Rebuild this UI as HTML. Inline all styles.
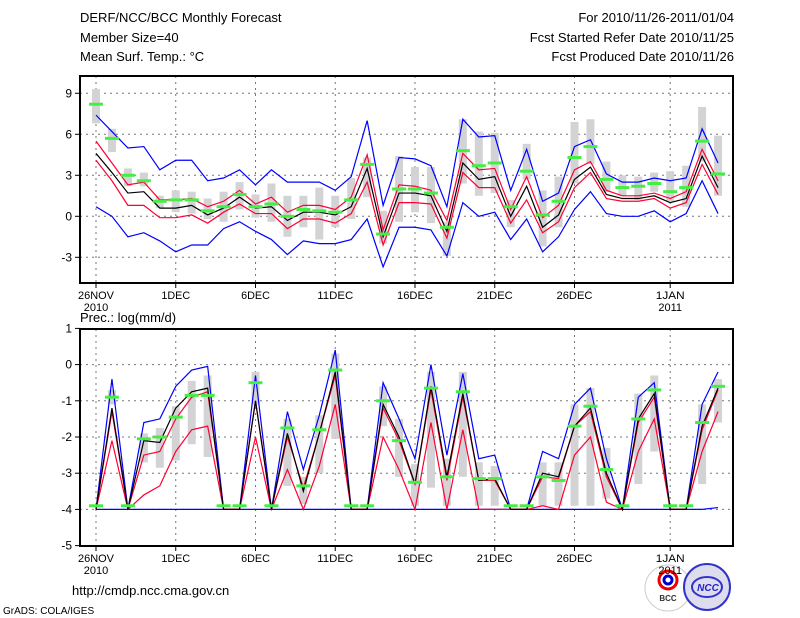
<!DOCTYPE html>
<html><head><meta charset="utf-8">
<style>
body{margin:0;background:#fff;}
svg{display:block;font-family:"Liberation Sans",sans-serif;}
</style></head>
<body>
<svg id="c" width="800" height="618" viewBox="0 0 800 618">
<g font-size="13" fill="#000">
<text x="80" y="22">DERF/NCC/BCC Monthly Forecast</text>
<text x="80" y="42">Member Size=40</text>
<text x="80" y="61">Mean Surf. Temp.: °C</text>
<text x="734" y="22" text-anchor="end">For 2010/11/26-2011/01/04</text>
<text x="734" y="42" text-anchor="end">Fcst Started Refer Date 2010/11/25</text>
<text x="734" y="61" text-anchor="end">Fcst Produced Date 2010/11/26</text>
<text x="80" y="322">Prec.: log(mm/d)</text>
<text x="72" y="595">http://cmdp.ncc.cma.gov.cn</text>
<text x="3" y="614" font-size="10">GrADS: COLA/IGES</text>
</g>
<g>
<circle cx="668" cy="588" r="23" fill="#fff" stroke="#ccc"/>
<circle cx="668" cy="580" r="9" fill="none" stroke="#e00" stroke-width="3"/>
<circle cx="668" cy="580" r="4" fill="none" stroke="#00c" stroke-width="3"/>
<text x="668" y="601" font-size="8" text-anchor="middle" font-weight="bold" fill="#333">BCC</text>
<circle cx="707" cy="587" r="23" fill="#dde" stroke="#33c" stroke-width="2"/>
<ellipse cx="707" cy="587" rx="15" ry="10" fill="none" stroke="#33c" stroke-width="2"/>
<text x="708" y="591" font-size="10" text-anchor="middle" font-style="italic" font-weight="bold" fill="#22c">NCC</text>
</g>
</svg>
<script>
const days=40;
const xLabels=["26NOV","1DEC","6DEC","11DEC","16DEC","21DEC","26DEC","1JAN"];
const xLabelDays=[0,5,10,15,20,25,30,36];
// Temperature
const tBarHi=[9.3,6.4,3.5,3.2,1.5,1.9,1.8,1.3,1.8,2.5,1.6,2.4,1.5,1.5,2.1,1.5,2.8,4.3,0.4,4.4,3.6,3.6,-0.4,7.1,6.2,6.1,1.2,5.3,1.9,2.9,6.9,7.1,4.0,3.0,2.9,3.2,3.3,3.7,8.0,5.9];
const tBarLo=[6.8,4.7,2.2,2.2,0.6,0.3,0.2,-0.2,-0.4,0.5,-0.1,-0.4,-1.5,-0.8,-1.7,-0.8,-0.2,1.4,-2.0,-0.4,0.3,-0.5,-2.9,2.4,1.5,1.7,-0.8,2.7,-2.2,-0.8,2.4,3.8,1.8,1.5,1.2,1.8,1.1,0.7,4.0,1.5];
const tGreen=[8.2,5.7,3.0,2.6,1.1,1.2,1.2,0.4,0.7,1.6,0.7,0.9,0.0,0.5,0.4,0.3,1.2,3.8,-1.3,2.0,2.0,1.7,-0.8,4.8,3.7,3.9,0.7,3.3,0.1,1.1,4.3,5.1,2.7,2.1,2.2,2.4,1.8,2.1,5.5,3.1];
const tBlueHi=[7.4,6.2,5.0,5.1,3.4,4.1,4.1,2.6,2.8,3.4,2.3,3.4,2.5,2.5,2.5,1.9,2.9,7.0,0.8,4.3,4.2,3.7,0.7,7.1,5.8,5.9,1.9,4.9,1.1,1.7,5.1,5.6,3.1,2.5,2.5,2.8,2.6,2.8,6.4,3.9];
const tBlueLo=[0.7,0.0,-1.5,-1.2,-1.8,-2.6,-2.1,-2.1,-0.9,-0.4,-1.1,-1.7,-2.8,-1.8,-2.0,-2.0,-1.7,-0.2,-3.7,-0.8,-0.8,-1.0,-2.9,1.0,0.0,0.3,-1.7,-0.2,-2.6,-1.5,0.5,1.8,0.2,0.0,0.0,0.4,-0.4,0.2,2.6,0.2];
const tRedHi=[5.5,3.9,2.3,2.5,1.2,1.2,1.3,0.7,1.1,1.9,0.9,1.4,0.3,0.8,0.8,0.5,1.4,4.5,-1.0,2.3,2.2,1.9,-0.3,4.6,3.4,3.5,0.5,2.9,-0.1,0.8,3.4,4.0,1.9,1.5,1.5,1.7,1.3,1.8,4.9,2.6];
const tRedLo=[4.1,2.6,0.8,0.8,-0.1,-0.1,0.1,-0.5,0.3,0.9,0.2,0.2,-0.9,-0.2,-0.2,-0.5,0.2,2.5,-2.1,1.0,1.0,0.9,-1.6,3.2,2.1,2.1,-0.5,1.2,-1.2,-0.4,2.1,3.2,1.3,1.1,1.1,1.3,0.6,1.0,3.8,1.6];
const tMean=[4.6,3.2,1.7,1.8,0.6,0.6,0.8,0.1,0.6,1.4,0.6,0.7,-0.3,0.3,0.3,0.1,0.7,3.5,-1.5,1.7,1.7,1.5,-1.1,3.9,2.7,2.9,0.0,2.2,-0.8,0.1,2.7,3.6,1.6,1.3,1.3,1.5,1.0,1.3,4.4,2.1];
const tTicks=[-3,0,3,6,9];
// Precipitation
const pBarHi=[null,-0.7,null,-1.9,-1.75,-1.15,-0.45,-0.3,null,null,-0.2,null,-1.5,-3.1,-1.4,0.3,null,null,-0.6,-1.5,-2.75,-0.2,-2.6,-0.2,-2.7,-2.8,null,null,-2.7,-2.7,-1.1,-0.65,-2.3,null,-0.8,-0.3,null,null,-1.1,-0.4];
const pBarLo=[null,-1.1,null,-2.7,-2.85,-2.65,-2.2,-2.55,null,null,-1.1,null,-3.35,-3.85,-3.0,-2.05,null,null,-1.7,-3.1,-3.9,-3.4,-3.9,-3.1,-3.9,-3.9,null,null,-3.9,-3.9,-3.9,-3.9,-3.7,null,-3.3,-2.4,null,null,-3.3,-1.6];
const pGreen=[-3.9,-0.9,-3.9,-2.05,-2.0,-1.45,-0.85,-0.85,-3.9,-3.9,-0.5,-3.9,-1.75,-3.35,-1.8,-0.15,-3.9,-3.9,-1.0,-2.1,-3.25,-0.65,-3.1,-0.75,-3.15,-3.15,-3.9,-3.9,-3.1,-3.2,-1.7,-1.15,-2.9,-3.9,-1.5,-0.7,-3.9,-3.9,-1.6,-0.6];
const pBlueHi=[-4,-0.4,-4,-1.6,-1.5,-0.6,-0.15,-0.05,-4,-4,-0.3,-4,-1.3,-2.9,-1.4,0.4,-4,-4,-0.5,-1.5,-2.6,0.0,-2.5,-0.25,-2.6,-2.5,-4,-4,-2.4,-2.6,-1.1,-0.65,-2.6,-4,-0.9,-0.5,-4,-4,-1.1,-0.2];
const pBlueLo=[-4,-4,-4,-4,-4,-4,-4,-4,-4,-4,-4,-4,-4,-4,-4,-4,-4,-4,-4,-4,-4,-4,-4,-4,-4,-4,-4,-4,-4,-4,-4,-4,-4,-4,-4,-4,-4,-4,-4,-3.95];
const pRedHi=[-4,-1.3,-4,-2.5,-2.4,-1.5,-0.9,-0.75,-4,-4,-1.0,-4,-2.0,-3.4,-1.9,-0.3,-4,-4,-1.2,-2.1,-3.3,-0.7,-3.2,-0.9,-3.2,-3.2,-4,-4,-3.1,-3.15,-1.7,-1.3,-3.1,-4,-1.6,-0.9,-4,-4,-1.8,-0.7];
const pRedLo=[-4,-2.1,-4,-3.6,-3.35,-2.4,-1.8,-1.7,-4,-4,-2.0,-4,-2.9,-4,-2.8,-1.1,-4,-4,-2.0,-2.9,-4,-1.6,-4,-1.8,-4,-4,-4,-4,-3.9,-4,-2.5,-2.0,-3.8,-4,-2.4,-1.5,-4,-4,-2.4,-1.3];
const pMean=[-4,-1.2,-4,-2.1,-2.15,-1.2,-0.75,-0.65,-4,-4,-1.0,-4,-1.9,-3.5,-1.9,-0.2,-4,-4,-1.1,-2.0,-3.3,-0.6,-3.1,-0.8,-3.2,-3.15,-4,-4,-3.0,-3.1,-1.7,-1.2,-3.0,-4,-1.5,-0.8,-4,-4,-1.7,-0.65];
const pTicks=[-5,-4,-3,-2,-1,0,1];

const NS="http://www.w3.org/2000/svg";
const svg=document.getElementById('c');
function mk(tag,attrs,parent){const e=document.createElementNS(NS,tag);for(const k in attrs)e.setAttribute(k,attrs[k]);(parent||svg).appendChild(e);return e;}
const X0=96,DX=15.95;
function xs(i){return X0+DX*i;}

function panel(cfg){
  const g=mk('g',{});
  
  
  const ys=v=>cfg.y0-cfg.k*v;
  // grid
  cfg.grid.forEach(v=>{const l=mk('line',{x1:cfg.L,x2:cfg.R,y1:ys(v),y2:ys(v),stroke:'#777','stroke-dasharray':'2,4'},g);
    });
  xLabelDays.forEach(d=>{const l=mk('line',{x1:xs(d),x2:xs(d),y1:cfg.T,y2:cfg.B,stroke:'#777','stroke-dasharray':'2,4'},g);
    });
  // bars
  for(let i=0;i<days;i++){
    if(cfg.barHi[i]==null)continue;
    const r=mk('rect',{x:xs(i)-4,y:ys(cfg.barHi[i]),width:8,height:ys(cfg.barLo[i])-ys(cfg.barHi[i]),fill:'#d3d3d6'},g);
    
  }
  function line(arr,color,name){
    const p=mk('polyline',{points:arr.map((v,i)=>xs(i)+','+ys(v)).join(' '),fill:'none',stroke:color,'stroke-width':1.2},g);
    
  }
  line(cfg.blueHi,'#0000ff','blue-upper-line');
  line(cfg.blueLo,'#0000ff','blue-lower-line');
  line(cfg.redHi,'#ff0033','red-upper-line');
  line(cfg.redLo,'#ff0033','red-lower-line');
  line(cfg.mean,'#000','ensemble-mean-line');
  for(let i=0;i<days;i++){
    const r=mk('rect',{x:xs(i)-7,y:ys(cfg.green[i])-1.5,width:14,height:3,fill:'#44ee44'},g);
    
  }
  // frame
  const f=mk('rect',{x:cfg.L,y:cfg.T,width:cfg.R-cfg.L,height:cfg.B-cfg.T,fill:'none',stroke:'#000','stroke-width':2},g);
  
  cfg.ticks.forEach(v=>{
    mk('line',{x1:cfg.L-5,x2:cfg.L,y1:ys(v),y2:ys(v),stroke:'#000'},g);
    const t=mk('text',{x:cfg.L-8,y:ys(v)+4,'text-anchor':'end','font-size':12},g);
    t.textContent=v;
    
  });
  xLabels.forEach((s,j)=>{
    mk('line',{x1:xs(xLabelDays[j]),x2:xs(xLabelDays[j]),y1:cfg.B,y2:cfg.B+5,stroke:'#000'},g);
    const t=mk('text',{x:xs(xLabelDays[j]),y:cfg.B+16,'text-anchor':'middle','font-size':11,'textLength':s.length*7.2,'lengthAdjust':'spacingAndGlyphs'},g);
    t.textContent=s;
    
  });
  const y1=mk('text',{x:xs(0),y:cfg.B+28,'text-anchor':'middle','font-size':11},g);y1.textContent='2010';
  
  const y2=mk('text',{x:xs(36),y:cfg.B+28,'text-anchor':'middle','font-size':11},g);y2.textContent='2011';
  
}
panel({name:'temperature-panel',L:80,R:733,T:76,B:283,y0:216.3,k:13.67,grid:[-3,0,3,6,9],ticks:tTicks,
  barHi:tBarHi,barLo:tBarLo,green:tGreen,blueHi:tBlueHi,blueLo:tBlueLo,redHi:tRedHi,redLo:tRedLo,mean:tMean});
panel({name:'precipitation-panel',L:80,R:733,T:329,B:546,y0:364.6,k:36.2,grid:[-4,-3,-2,-1,0],ticks:pTicks,
  barHi:pBarHi,barLo:pBarLo,green:pGreen,blueHi:pBlueHi,blueLo:pBlueLo,redHi:pRedHi,redLo:pRedLo,mean:pMean});
</script>
</body></html>
